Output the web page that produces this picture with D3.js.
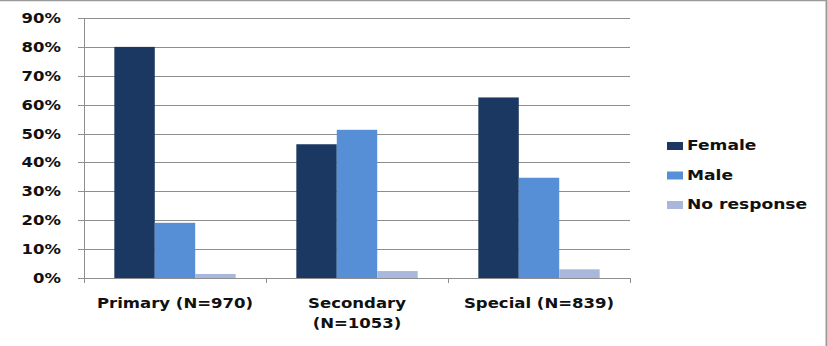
<!DOCTYPE html>
<html>
<head>
<meta charset="utf-8">
<script src="https://cdn.jsdelivr.net/npm/d3@7/dist/d3.min.js"></script>
<style>
  body { margin: 0; background: #fff; }
  text { font-family: "DejaVu Sans", Verdana, sans-serif; font-weight: bold; fill: #111; }
</style>
</head>
<body>
<div id="chart"></div>
<script>
// data
var categories = ["Primary (N=970)", "Secondary (N=1053)", "Special (N=839)"];
var categoryLines = [["Primary (N=970)"], ["Secondary", "(N=1053)"], ["Special (N=839)"]];
var seriesNames = ["Female", "Male", "No response"];
var female = [80.0, 46.3, 62.5];
var male = [19.1, 51.3, 34.7];
var noResponse = [1.4, 2.4, 3.0];
var yTicks = [0, 10, 20, 30, 40, 50, 60, 70, 80, 90];
var colors = ["#1b3862", "#568fd6", "#a8b7da"];

var width = 828, height = 346;
var svg = d3.select('#chart').append('svg')
  .attr("width", width)
  .attr("height", height);

// frame (cropped: only top and right edges visible)
svg.append("line").attr("x1", 0).attr("x2", 827).attr("y1", 0.5).attr("y2", 0.5)
  .attr("stroke", "#9a9a9a").attr("stroke-width", 1.5);
svg.append("line").attr("x1", 826.5).attr("x2", 826.5).attr("y1", 0).attr("y2", height)
  .attr("stroke", "#9a9a9a").attr("stroke-width", 2);

// plot area (note: "top" is taken by window.top)
var plotLeft = 84, plotRight = 630, plotTop = 18, plotBottom = 278;

var x = d3.scaleBand().domain(categories).range([plotLeft, plotRight]).paddingInner(0).paddingOuter(0);
var x1 = d3.scaleBand().domain(seriesNames).range([0, x.bandwidth()]).paddingInner(0).paddingOuter(0.75);
var y = d3.scaleLinear().domain([0, 90]).range([plotBottom, plotTop]);

// gridlines
svg.append("g").selectAll("line").data(yTicks.filter(function(d){return d > 0;})).enter().append("line")
  .attr("x1", plotLeft - 6).attr("x2", plotRight)
  .attr("y1", function(d){return Math.round(y(d)) + 0.5;})
  .attr("y2", function(d){return Math.round(y(d)) + 0.5;})
  .attr("stroke", "#8e8e8e").attr("stroke-width", 1);

// bars
var seriesValues = [female, male, noResponse];
var groups = svg.append("g").selectAll("g").data(categories).enter().append("g")
  .attr("transform", function(d){return "translate(" + x(d) + ",0)";});
groups.selectAll("rect").data(function(d, i){
    return seriesNames.map(function(s, j){return {s: s, v: seriesValues[j][i], j: j};});
  }).enter().append("rect")
  .attr("x", function(d){return x1(d.s);})
  .attr("width", x1.bandwidth())
  .attr("y", function(d){return y(d.v);})
  .attr("height", function(d){return plotBottom - y(d.v);})
  .attr("fill", function(d){return colors[d.j];});

// axes
svg.append("line").attr("x1", plotLeft - 6).attr("x2", plotRight).attr("y1", plotBottom + 0.5).attr("y2", plotBottom + 0.5)
  .attr("stroke", "#8e8e8e");
svg.append("line").attr("x1", plotLeft + 0.5).attr("x2", plotLeft + 0.5).attr("y1", plotTop).attr("y2", plotBottom + 5)
  .attr("stroke", "#8e8e8e");
svg.append("g").selectAll("line").data(categories).enter().append("line")
  .attr("x1", function(d){return x(d) + x.bandwidth() + 0.5;})
  .attr("x2", function(d){return x(d) + x.bandwidth() + 0.5;})
  .attr("y1", plotBottom).attr("y2", plotBottom + 5)
  .attr("stroke", "#8e8e8e");

// y tick labels (stretched horizontally like the source)
svg.append("g").selectAll("text").data(yTicks).enter().append("text")
  .attr("transform", function(d){return "translate(61," + (y(d) + 5) + ") scale(1.22,1)";})
  .attr("text-anchor", "end")
  .attr("font-size", "13.5px")
  .text(function(d){return d + "%";});

// category labels
var catLabels = svg.append("g").selectAll("g").data(categories).enter().append("g")
  .attr("transform", function(d){return "translate(" + (x(d) + x.bandwidth() / 2) + ",308)";});
catLabels.selectAll("text").data(function(d, i){return categoryLines[i];}).enter().append("text")
  .attr("transform", function(d, i){return "translate(0," + (i * 20) + ") scale(1.14,1)";})
  .attr("text-anchor", "middle")
  .attr("font-size", "14.5px")
  .text(function(d){return d;});

// legend
var legend = svg.append("g").selectAll("g").data(seriesNames).enter().append("g")
  .attr("transform", function(d, i){return "translate(667," + (142 + i * 29.5) + ")";});
legend.append("rect")
  .attr("width", 16).attr("height", 8)
  .attr("fill", function(d, i){return colors[i];});
legend.append("text")
  .attr("transform", "translate(20,8) scale(1.18,1)")
  .attr("font-size", "14.5px")
  .text(function(d){return d;});
</script>
</body>
</html>
